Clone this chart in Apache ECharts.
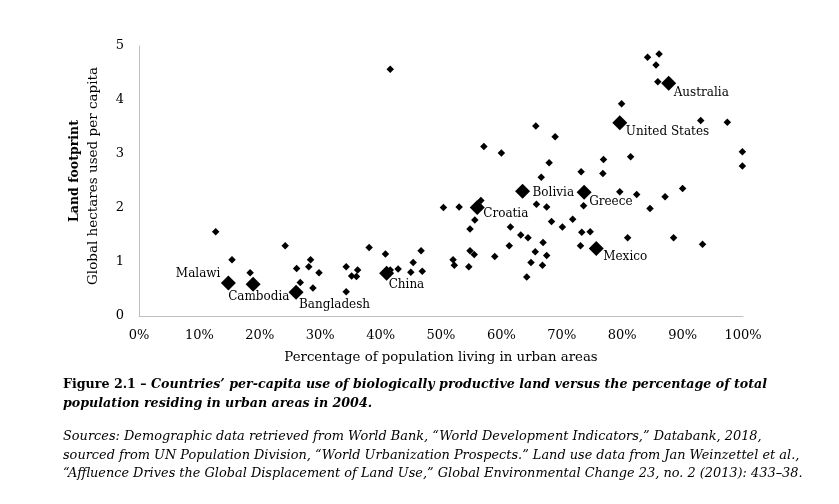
<!DOCTYPE html>
<html>
<head>
<meta charset="utf-8">
<script src="https://cdn.jsdelivr.net/npm/echarts@6/dist/echarts.min.js"></script>
<style>html,body{margin:0;padding:0;background:#fff;}#c{width:839px;height:504px;}</style>
</head>
<body>
<div id="c"></div>
<script>
// Other countries: urban population share (%) and land footprint (gha per capita)
const otherUrban = [12.7,15.4,18.4,24.2,26.1,26.7,28.1,28.4,28.8,29.8,34.3,34.3,35.2,36.2,36.0,38.1,40.8,41.6,41.6,42.9,45.4,45.0,46.7,46.9,
  50.4,53.0,56.6,55.6,54.8,52.0,52.2,54.6,54.8,55.5,58.9,57.1,60.0,61.5,61.3,63.2,64.4,65.8,67.5,65.7,68.9,67.9,66.6,68.3,70.1,71.8,
  66.9,65.6,67.5,64.9,66.8,64.2,73.2,73.6,76.9,76.8,73.3,74.7,73.1,79.6,82.4,84.6,87.1,90.0,81.4,79.9,93.0,97.4,99.9,99.9,80.9,88.5,93.3,
  85.9,84.2,86.1,85.6];
const otherFootprint = [1.56,1.04,0.80,1.30,0.88,0.62,0.91,1.04,0.52,0.80,0.91,0.45,0.74,0.85,0.73,1.27,1.15,4.57,0.85,0.87,0.99,0.81,1.21,0.83,
  2.01,2.02,2.14,1.78,1.61,1.04,0.94,0.91,1.21,1.14,1.10,3.14,3.02,1.65,1.30,1.50,1.45,2.07,2.02,3.52,3.32,2.84,2.57,1.75,1.65,1.79,
  1.36,1.19,1.12,0.99,0.94,0.72,2.67,2.04,2.90,2.64,1.55,1.56,1.30,2.30,2.25,1.99,2.21,2.36,2.95,3.93,3.62,3.59,3.04,2.78,1.45,1.45,1.33,
  4.34,4.79,4.85,4.65];
// Highlighted countries
const namedCountries = ['Malawi','Cambodia','Bangladesh','China','Croatia','Bolivia','Greece','Mexico','United States','Australia'];
const namedUrban = [14.8,18.9,26.0,41.0,56.0,63.5,73.7,75.7,79.6,87.7];
const namedFootprint = [0.61,0.59,0.44,0.79,2.01,2.31,2.29,1.25,3.58,4.31];
// Axis ticks
const xTickValues = [0,10,20,30,40,50,60,70,80,90,100];
const yTickValues = [0,1,2,3,4,5];

const SERIF = '"DejaVu Serif", "Liberation Serif", serif';
const BIG = 15;
const labelPlace = {
  'Malawi':       {position:'left',  offset:[-0.5,-9]},
  'Cambodia':     {position:'right', offset:[-32.5,13]},
  'Bangladesh':   {position:'right', offset:[-4.5,12.5]},
  'China':        {position:'right', offset:[-5.5,11.5]},
  'Croatia':      {position:'right', offset:[-1.5,6.5]},
  'Bolivia':      {position:'right', offset:[2.5,1.5]},
  'Greece':       {position:'right', offset:[-2.5,10]},
  'Mexico':       {position:'right', offset:[-0.5,8]},
  'United States':{position:'right', offset:[-1.5,9.5]},
  'Australia':    {position:'right', offset:[-2.5,10]}
};

const otherData = otherUrban.map((x,i)=>[x, otherFootprint[i]]);
const namedData = namedCountries.map((n,i)=>({
  name:n, value:[namedUrban[i], namedFootprint[i]],
  label:{position:labelPlace[n].position, offset:labelPlace[n].offset}
}));

const chart = echarts.init(document.getElementById('c'), null, {renderer:'canvas'});
chart.setOption({
  backgroundColor:'#fff',
  animation:false,
  grid:{left:139, right:96, top:46, bottom:188},
  xAxis:{
    type:'value', min:0, max:100, interval:10,
    name:'Percentage of population living in urban areas',
    nameLocation:'middle', nameGap:35,
    nameTextStyle:{fontFamily:SERIF, fontSize:13.3, color:'#000'},
    axisLine:{show:true, lineStyle:{color:'#bfbfbf', width:1}},
    axisTick:{show:false},
    splitLine:{show:false},
    axisLabel:{fontFamily:SERIF, fontSize:13, color:'#000', margin:13,
      formatter:v=> xTickValues.indexOf(v)>=0 ? v+'%' : ''}
  },
  yAxis:{
    type:'value', min:0, max:5, interval:1,
    axisLine:{show:true, lineStyle:{color:'#bfbfbf', width:1}},
    axisTick:{show:false},
    splitLine:{show:false},
    axisLabel:{fontFamily:SERIF, fontSize:13, color:'#000', margin:15,
      formatter:v=> yTickValues.indexOf(v)>=0 ? String(v) : ''}
  },
  series:[
    {type:'scatter', symbol:'diamond', symbolSize:7.5, data:otherData,
      itemStyle:{color:'#000', opacity:1}, silent:true},
    {type:'scatter', symbol:'diamond', symbolSize:BIG, data:namedData,
      itemStyle:{color:'#000', opacity:1}, silent:true,
      label:{show:true, distance:0, formatter:'{b}', fontFamily:SERIF, fontSize:12, color:'#000',
        textBorderWidth:0, opacity:1}}
  ],
  graphic:[
    {type:'text', x:75, y:171, rotation:Math.PI/2,
      style:{text:'Land footprint', fontFamily:SERIF, fontWeight:'bold', fontSize:12.5, fill:'#000',
        align:'center', verticalAlign:'middle'}},
    {type:'text', x:93, y:176, rotation:Math.PI/2,
      style:{text:'Global hectares used per capita', fontFamily:SERIF, fontSize:13.5, fill:'#000',
        align:'center', verticalAlign:'middle'}},
    {type:'text', x:63, y:385,
      style:{text:'{b|Figure 2.1 – }{bi|Countries’ per-capita use of biologically productive land versus the percentage of total}',
        verticalAlign:'middle',
        rich:{b:{fontFamily:SERIF, fontWeight:'bold', fontSize:12.65, fill:'#000'},
              bi:{fontFamily:SERIF, fontWeight:'bold', fontStyle:'italic', fontSize:12.65, fill:'#000'}}}},
    {type:'text', x:63, y:404,
      style:{text:'population residing in urban areas in 2004.', verticalAlign:'middle',
        fontFamily:SERIF, fontWeight:'bold', fontStyle:'italic', fontSize:12.65, fill:'#000'}},
    {type:'text', x:63, y:437,
      style:{text:'Sources: Demographic data retrieved from World Bank, “World Development Indicators,” Databank, 2018,', verticalAlign:'middle',
        fontFamily:SERIF, fontStyle:'italic', fontSize:12.9, fill:'#000'}},
    {type:'text', x:63, y:456,
      style:{text:'sourced from UN Population Division, “World Urbanization Prospects.” Land use data from Jan Weinzettel et al.,', verticalAlign:'middle',
        fontFamily:SERIF, fontStyle:'italic', fontSize:12.9, fill:'#000'}},
    {type:'text', x:63, y:474,
      style:{text:'“Affluence Drives the Global Displacement of Land Use,” Global Environmental Change 23, no. 2 (2013): 433–38.', verticalAlign:'middle',
        fontFamily:SERIF, fontStyle:'italic', fontSize:12.9, fill:'#000'}}
  ]
});
</script>
</body>
</html>
